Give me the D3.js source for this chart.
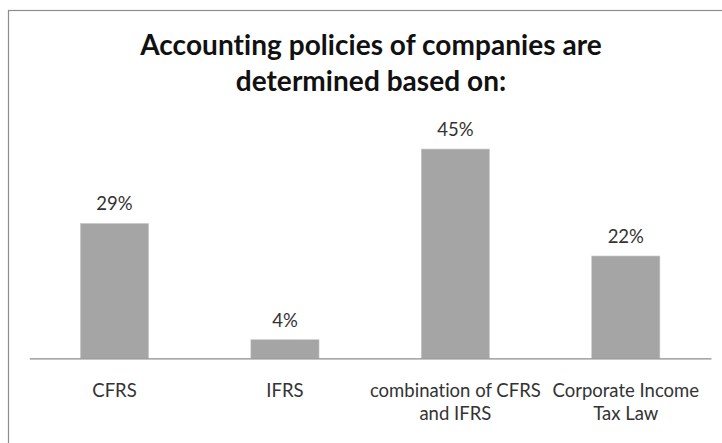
<!DOCTYPE html>
<html>
<head>
<meta charset="utf-8">
<script src="https://cdn.jsdelivr.net/npm/d3@7"></script>
<style>
  html, body { margin: 0; padding: 0; background: #ffffff; }
  svg { display: block; }
  text { font-family: Lato, "Open Sans", sans-serif; font-variant-ligatures: none; font-feature-settings: "liga" 0, "clig" 0, "dlig" 0; }
  .title { letter-spacing: 0.05px; }
</style>
</head>
<body>
<div id="chart"></div>
<script>
const titleLines = ["Accounting policies of companies are", "determined based on:"];
const categories = ["CFRS", "IFRS", "combination of CFRS and IFRS", "Corporate Income Tax Law"];
const categoryLines = [["CFRS"], ["IFRS"], ["combination of CFRS", "and IFRS"], ["Corporate Income", "Tax Law"]];
const values = [29, 4, 45, 22];
const valueLabels = ["29%", "4%", "45%", "22%"];
const yDomain = [0, 50];

const W = 722, H = 443;
const svg = d3.select("#chart").append("svg").attr("width", W).attr("height", H);

// chart border (open on right/bottom as cropped)
svg.append("rect").attr("x", 8.5).attr("y", 10.5).attr("width", W + 10).attr("height", H + 10)
  .attr("fill", "#ffffff").attr("stroke", "#8c8c8c").attr("stroke-width", 1.2);

const plot = { left: 29.3, right: 711, top: 125.8, bottom: 358.3 };

const x = d3.scaleBand().domain(categories).range([plot.left, plot.right])
  .paddingInner(0.6).paddingOuter(0.3);
const y = d3.scaleLinear().domain(yDomain).range([plot.bottom, plot.top]);

// title
const title = svg.append("text").attr("class", "title").attr("text-anchor", "middle")
  .attr("font-weight", "bold").attr("font-size", 28).attr("fill", "#111");
titleLines.forEach((t, i) => {
  title.append("tspan").attr("x", 371).attr("y", 55 + i * 36).text(t);
});

// bars
svg.selectAll("rect.bar").data(values).join("rect").attr("class", "bar")
  .attr("x", (d, i) => x(categories[i]))
  .attr("y", d => y(d))
  .attr("width", x.bandwidth())
  .attr("height", d => y(0) - y(d))
  .attr("fill", "#a5a5a5")
  .attr("stroke", "#c8c8c8").attr("stroke-width", 0.6);

// value labels
svg.selectAll("text.val").data(values).join("text").attr("class", "val")
  .attr("x", (d, i) => x(categories[i]) + x.bandwidth() / 2)
  .attr("y", d => y(d) - 13)
  .attr("text-anchor", "middle").attr("font-size", 18.5).attr("fill", "#333")
  .text((d, i) => valueLabels[i]);

// x axis
const xAxis = d3.axisBottom(x).tickSize(0).tickFormat("");
const ax = svg.append("g").attr("transform", `translate(0,${plot.bottom})`).call(xAxis);
ax.select(".domain").attr("stroke", "#8c8c8c").attr("stroke-width", 1.2);

// category labels
categories.forEach((c, i) => {
  const t = svg.append("text").attr("text-anchor", "middle")
    .attr("font-size", 18.5).attr("fill", "#333");
  categoryLines[i].forEach((ln, j) => {
    t.append("tspan").attr("x", x(c) + x.bandwidth() / 2).attr("y", 397 + j * 22.5).text(ln);
  });
});
</script>
</body>
</html>
